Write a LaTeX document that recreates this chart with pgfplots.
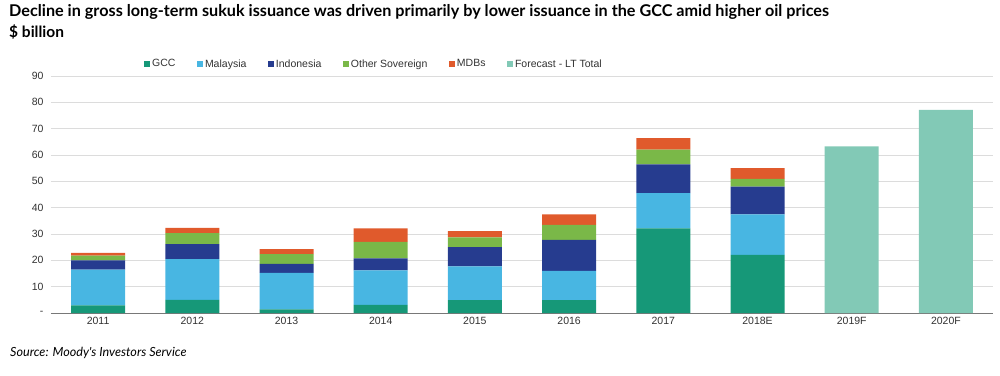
\documentclass[border=0pt]{standalone}
\usepackage{fontspec}
\setmainfont{Liberation Sans}
\newfontfamily\titlefont{Lato}
\usepackage{pgfplots}
\pgfplotsset{compat=1.18}
\definecolor{gcc}{RGB}{22,152,120}
\definecolor{mal}{RGB}{72,182,226}
\definecolor{indo}{RGB}{38,60,143}
\definecolor{oth}{RGB}{122,184,72}
\definecolor{mdb}{RGB}{224,90,44}
\definecolor{fc}{RGB}{130,201,182}
\definecolor{gridc}{RGB}{220,220,220}
\definecolor{axc}{RGB}{120,120,120}
\definecolor{txt}{RGB}{50,50,50}
\begin{document}
\begin{tikzpicture}
\path (-51pt,-62pt) rectangle (949pt,313pt);
\begin{axis}[
  at={(0pt,0pt)}, anchor=south west,
  scale only axis, width=942pt, height=237pt,
  ybar stacked, bar width=54pt,
  xmin=-0.5, xmax=9.5, ymin=0, ymax=90,
  xtick={0,...,9},
  xticklabels={2011,2012,2013,2014,2015,2016,2017,2018E,2019F,2020F},
  ytick={0,10,...,90},
  yticklabels={-,10,20,30,40,50,60,70,80,90},
  axis lines*=left,
  x axis line style={axc, line width=0.8pt},
  y axis line style={draw=none},
  tick style={draw=none},
  ymajorgrids, grid style={gridc, line width=0.8pt},
  ticklabel style={font=\fontsize{10.5}{12}\selectfont, text=txt},
  xticklabel style={yshift=-1pt},
  yticklabel style={xshift=-4pt},
  legend columns=6,
  legend style={at={(0.0955,1.0506)}, anchor=west, draw=none, fill=none,
    font=\fontsize{10.5}{12}\selectfont, text=txt,
    /tikz/every even column/.append style={column sep=19.5pt}},
  every axis plot/.append style={draw=none},
]
\addplot[fill=gcc, legend image code/.code={\fill[gcc] (0pt,-3pt) rectangle (6pt,3pt);}] coordinates {(0,2.9) (1,5.0) (2,1.4) (3,3.1) (4,4.9) (5,4.9) (6,32.1) (7,22.1) (8,0) (9,0)};
\addlegendentry{GCC}
\addplot[fill=mal, legend image code/.code={\fill[mal] (0pt,-3pt) rectangle (6pt,3pt);}] coordinates {(0,13.6) (1,15.5) (2,13.8) (3,13.1) (4,12.8) (5,11.1) (6,13.4) (7,15.4) (8,0) (9,0)};
\addlegendentry{Malaysia}
\addplot[fill=indo, legend image code/.code={\fill[indo] (0pt,-3pt) rectangle (6pt,3pt);}] coordinates {(0,3.5) (1,5.7) (2,3.5) (3,4.5) (4,7.3) (5,11.8) (6,10.9) (7,10.5) (8,0) (9,0)};
\addlegendentry{Indonesia}
\addplot[fill=oth, legend image code/.code={\fill[oth] (0pt,-3pt) rectangle (6pt,3pt);}] coordinates {(0,1.8) (1,4.1) (2,3.7) (3,6.3) (4,3.7) (5,5.7) (6,5.6) (7,2.9) (8,0) (9,0)};
\addlegendentry{Other Sovereign}
\addplot[fill=mdb, legend image code/.code={\fill[mdb] (0pt,-3pt) rectangle (6pt,3pt);}] coordinates {(0,1.0) (1,2.0) (2,1.9) (3,5.1) (4,2.4) (5,4.0) (6,4.4) (7,4.1) (8,0) (9,0)};
\addlegendentry{MDBs}
\addplot[fill=fc, legend image code/.code={\fill[fc] (0pt,-3pt) rectangle (6pt,3pt);}] coordinates {(0,0) (1,0) (2,0) (3,0) (4,0) (5,0) (6,0) (7,0) (8,63.3) (9,77.1)};
\addlegendentry{Forecast - LT Total}
\end{axis}
\node[anchor=west, inner sep=0pt, text=black] at (-42pt,301pt) {\titlefont\bfseries\fontsize{16.2}{18}\selectfont Decline in gross long-term sukuk issuance was driven primarily by lower issuance in the GCC amid higher oil prices};
\node[anchor=west, inner sep=0pt, text=black] at (-42pt,281pt) {\titlefont\bfseries\fontsize{15.5}{17}\selectfont \$ billion};
\node[anchor=west, inner sep=0pt, text=black] at (-41pt,-40pt) {\titlefont\itshape\fontsize{12.6}{14}\selectfont Source: Moody's Investors Service};
\end{tikzpicture}
\end{document}
